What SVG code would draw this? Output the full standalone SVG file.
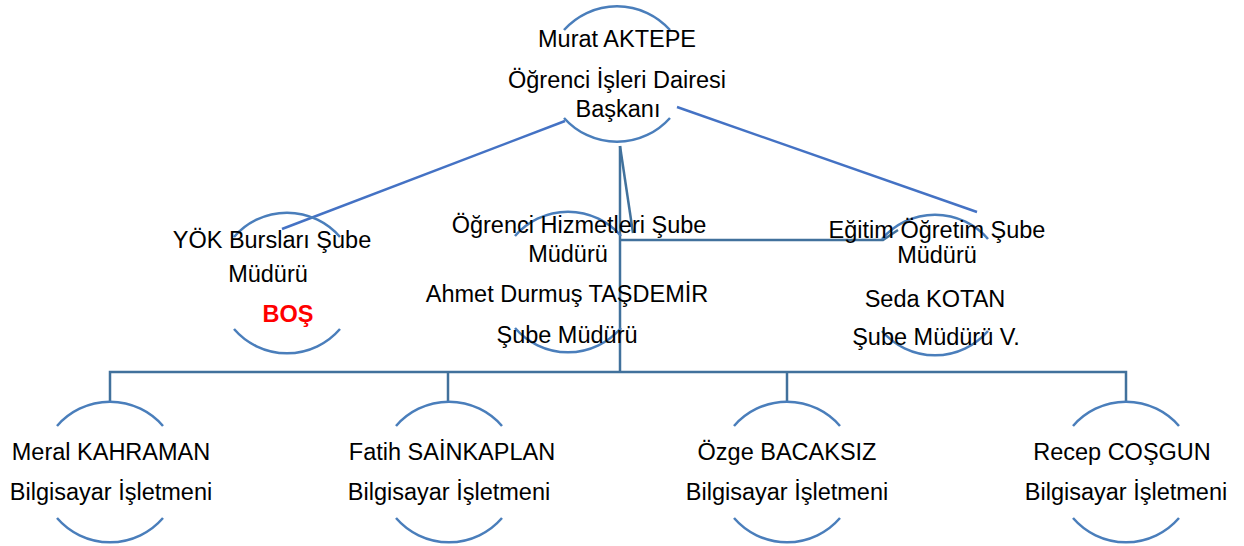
<svg xmlns="http://www.w3.org/2000/svg" width="1244" height="546" viewBox="0 0 1244 546">
<style>
.arc{fill:none;stroke:#4a7ebb;stroke-width:2.5}
.tree{fill:none;stroke:#41719c;stroke-width:2.5}
.diag{fill:none;stroke:#4472c4;stroke-width:2.5}
text{font-family:"Liberation Sans",Arial,sans-serif;font-size:23.5px;fill:#000;text-anchor:middle}
.red{fill:#ff0000;font-weight:bold}
</style>
<rect width="1244" height="546" fill="#fff"/>
<g id="connectors">
<line class="diag" x1="565" y1="121" x2="282" y2="229"/>
<line class="diag" x1="677" y1="107" x2="977" y2="212"/>
<line class="tree" x1="620" y1="146" x2="633" y2="233"/>
<line class="tree" x1="620" y1="146" x2="620" y2="373"/>
<polyline class="tree" points="620,240 883,240 898,230"/>
<polyline class="tree" points="110,402 110,372 1126,372 1126,402"/>
<line class="tree" x1="448" y1="372" x2="448" y2="402"/>
<line class="tree" x1="787" y1="372" x2="787" y2="402"/>
</g>
<g id="node-top">
<path class="arc" d="M564,30 A71,71 0 0 1 670,30"/>
<path class="arc" d="M564,118 A71,71 0 0 0 670,118"/>
<text x="617" y="47">Murat AKTEPE</text>
<text x="617" y="88">Öğrenci İşleri Dairesi</text>
<text x="618" y="117">Başkanı</text>
</g>
<g id="node-yok">
<path class="arc" d="M234,237 A70,70 0 0 1 340,237"/>
<path class="arc" d="M234,329 A70,70 0 0 0 340,329"/>
<text x="272" y="248">YÖK Bursları Şube</text>
<text x="268" y="282">Müdürü</text>
<text class="red" x="288" y="322">BOŞ</text>
</g>
<g id="node-ogrenci">
<path class="arc" d="M515,236 A70,70 0 0 1 621,236"/>
<path class="arc" d="M515,328 A70,70 0 0 0 621,328"/>
<text x="579" y="233">Öğrenci Hizmetleri Şube</text>
<text x="568" y="262">Müdürü</text>
<text x="567" y="302">Ahmet Durmuş TAŞDEMİR</text>
<text x="567" y="343">Şube Müdürü</text>
</g>
<g id="node-egitim">
<path class="arc" d="M882,239 A70,70 0 0 1 988,239"/>
<path class="arc" d="M882,331 A70,70 0 0 0 988,331"/>
<text x="937" y="238">Eğitim Öğretim Şube</text>
<text x="937" y="263">Müdürü</text>
<text x="935" y="307">Seda KOTAN</text>
<text x="936" y="345">Şube Müdürü V.</text>
</g>
<g id="node-meral">
<path class="arc" d="M57,426 A70,70 0 0 1 163,426"/>
<path class="arc" d="M57,518 A70,70 0 0 0 163,518"/>
<text x="111" y="460">Meral KAHRAMAN</text>
<text x="111" y="500">Bilgisayar İşletmeni</text>
</g>
<g id="node-fatih">
<path class="arc" d="M396,426 A70,70 0 0 1 502,426"/>
<path class="arc" d="M396,518 A70,70 0 0 0 502,518"/>
<text x="452" y="460">Fatih SAİNKAPLAN</text>
<text x="449" y="500">Bilgisayar İşletmeni</text>
</g>
<g id="node-ozge">
<path class="arc" d="M734,426 A70,70 0 0 1 840,426"/>
<path class="arc" d="M734,518 A70,70 0 0 0 840,518"/>
<text x="787" y="460">Özge BACAKSIZ</text>
<text x="787" y="500">Bilgisayar İşletmeni</text>
</g>
<g id="node-recep">
<path class="arc" d="M1073,426 A70,70 0 0 1 1179,426"/>
<path class="arc" d="M1073,518 A70,70 0 0 0 1179,518"/>
<text x="1122" y="460">Recep COŞGUN</text>
<text x="1126" y="500">Bilgisayar İşletmeni</text>
</g>
</svg>
